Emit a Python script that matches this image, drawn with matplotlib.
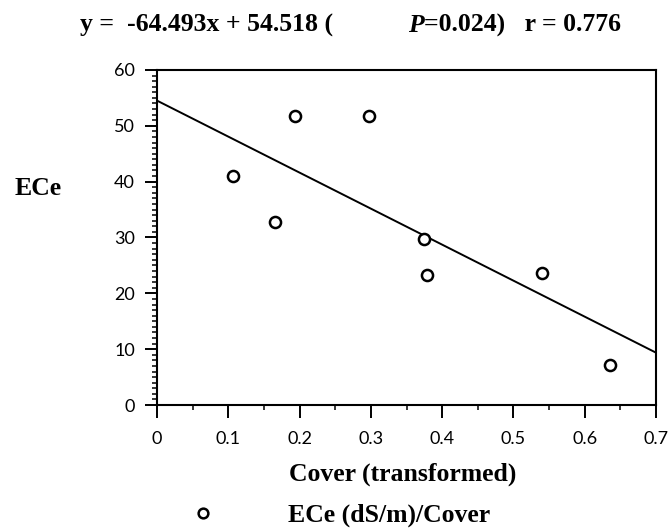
import numpy as np
import matplotlib.pyplot as plt
from matplotlib.ticker import MultipleLocator

# data
cover = [0.106, 0.165, 0.194, 0.298, 0.375, 0.379, 0.540, 0.636]
ece = [41.0, 32.7, 51.7, 51.7, 29.8, 23.3, 23.6, 7.1]
slope = -64.493
intercept = 54.518
xticks = [0, 0.1, 0.2, 0.3, 0.4, 0.5, 0.6, 0.7]
xticklabels = ['0', '0.1', '0.2', '0.3', '0.4', '0.5', '0.6', '0.7']

W, H = 668, 531
fig = plt.figure(figsize=(W / 100, H / 100), dpi=100)
# axes box: left 157, right 656, top 70, bottom 405 (pixels)
ax = fig.add_axes([157 / W, 1 - 405 / H, 499 / W, 335 / H])

xs = np.array([0, 0.7])
ax.plot(xs, slope * xs + intercept, color='black', lw=1.4)
ax.plot(cover, ece, 'o', mfc='white', mec='black', mew=1.8, ms=8, ls='none')

ax.set_xlim(0, 0.7)
ax.set_ylim(0, 60)
ax.set_xticks(xticks)
ax.set_xticklabels(xticklabels)
ax.xaxis.set_minor_locator(MultipleLocator(0.05))
ax.yaxis.set_major_locator(MultipleLocator(10))
ax.yaxis.set_minor_locator(MultipleLocator(1))

ax.tick_params(which='major', direction='out', length=9, width=1.4, labelsize=13)
ax.tick_params(axis='x', which='major', pad=10)
ax.tick_params(axis='y', which='major', pad=7)
ax.tick_params(which='minor', direction='out', length=3.5, width=1.1)
for lab in ax.get_xticklabels() + ax.get_yticklabels():
    lab.set_family('Lato')
for s in ax.spines.values():
    s.set_linewidth(1.5)

serif = 'Liberation Serif'
fs = 18.5
# x label, y label, title pieces and legend placed in pixel coords
fig.text(403 / W, 1 - 481 / H, 'Cover (transformed)', family=serif, weight='bold',
         fontsize=fs, ha='center', va='baseline')
fig.text(15 / W, 1 - 195 / H, 'ECe', family=serif, weight='bold', fontsize=fs, va='baseline')

fig.text(80 / W, 1 - 32 / H, 'y =  -64.493x + 54.518 (', family=serif, weight='bold',
         fontsize=fs, va='baseline')
fig.text(408 / W, 1 - 32 / H, 'P', family=serif, weight='bold', style='italic',
         fontsize=fs, va='baseline')
fig.text(424 / W, 1 - 32 / H, '=0.024)   r = 0.776', family=serif, weight='bold',
         fontsize=fs, va='baseline')

fig.lines.append(plt.Line2D([203 / W], [1 - 513 / H], transform=fig.transFigure,
                            marker='o', mfc='white', mec='black', mew=1.8, ms=7, ls='none'))
fig.text(288 / W, 1 - 522 / H, 'ECe (dS/m)/Cover', family=serif, weight='bold',
         fontsize=fs, va='baseline')

fig.savefig('out.png', dpi=100)
